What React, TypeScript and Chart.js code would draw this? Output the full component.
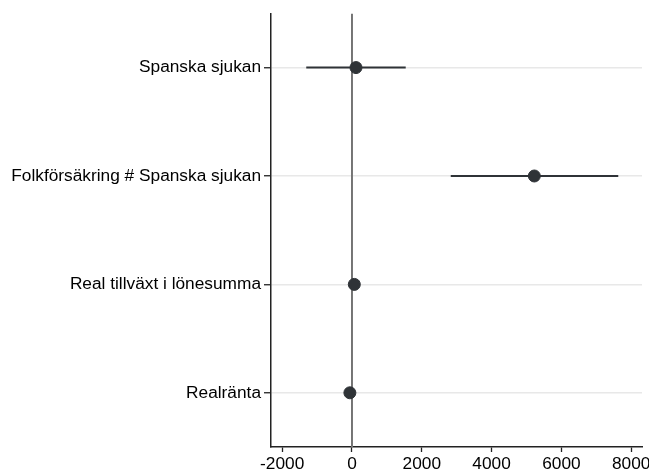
import React, { useEffect, useRef } from "react";
import { Chart, registerables } from "chart.js";

Chart.register(...registerables);

const categories = [
  "Spanska sjukan",
  "Folkförsäkring # Spanska sjukan",
  "Real tillväxt i lönesumma",
  "Realränta",
];
const estimates = [115, 5225, 67, -60];
const lowerCI = [-1310, 2830, -20, -140];
const upperCI = [1540, 7630, 150, 20];
const xTicks = [-2000, 0, 2000, 4000, 6000, 8000];
const xMin = -2320;
const xMax = 8310;

const DARK = "#2f3337";
const FONT = "'Liberation Sans', Arial, sans-serif";

export default function App() {
  const ref = useRef<HTMLCanvasElement>(null);

  useEffect(() => {
    if (!ref.current) return;
    const ciSets = categories.map((_, i) => ({
      type: "line" as const,
      data: [
        { x: lowerCI[i], y: i + 1 },
        { x: upperCI[i], y: i + 1 },
      ],
      borderColor: DARK,
      borderWidth: 2,
      pointRadius: 0,
      showLine: true,
      order: 1,
    }));
    const chart = new Chart(ref.current, {
      type: "scatter",
      data: {
        datasets: [
          {
            type: "scatter",
            data: estimates.map((e, i) => ({ x: e, y: i + 1 })),
            backgroundColor: DARK,
            borderColor: DARK,
            pointRadius: 6,
            order: 0,
          },
          ...ciSets,
          {
            type: "line",
            data: [
              { x: 0, y: 0.5 },
              { x: 0, y: 4.5 },
            ],
            borderColor: "#747474",
            borderWidth: 2,
            pointRadius: 0,
            showLine: true,
            order: 2,
          },
        ] as any,
      },
      options: {
        animation: false,
        responsive: true,
        maintainAspectRatio: false,
        layout: { padding: { top: 13, right: 7, left: 0, bottom: 0 } },
        plugins: { legend: { display: false }, tooltip: { enabled: false } },
        scales: {
          x: {
            type: "linear",
            min: xMin,
            max: xMax,
            afterBuildTicks: (s: any) => {
              s.ticks = xTicks.map((v) => ({ value: v }));
            },
            afterFit: (s: any) => {
              s.height = 24;
              s.paddingRight = 0;
              s.paddingLeft = 0;
            },
            grid: {
              drawOnChartArea: false,
              tickColor: "#222",
              tickLength: 5,
              tickWidth: 1.3,
            },
            border: { color: "#222", width: 1.5 },
            ticks: {
              color: "#000",
              padding: 2,
              maxRotation: 0,
              font: { family: FONT, size: 17.3 },
              callback: (v: any) => String(v),
            },
          },
          y: {
            type: "linear",
            min: 0.5,
            max: 4.5,
            reverse: true,
            afterBuildTicks: (s: any) => {
              s.ticks = categories.map((_, i) => ({ value: i + 1 }));
            },
            afterFit: (s: any) => {
              s.width = 271;
            },
            grid: {
              color: "#e8e8e8",
              lineWidth: 1.5,
              tickColor: "#222",
              tickLength: 7,
              tickWidth: 1.3,
            },
            border: { color: "#222", width: 1.5 },
            ticks: {
              color: "#000",
              padding: 3,
              font: { family: FONT, size: 17.3 },
              callback: (v: any) => categories[Math.round(v) - 1] ?? "",
            },
          },
        },
      },
    });
    return () => chart.destroy();
  }, []);

  return (
    <div
      style={{
        position: "fixed",
        left: 0,
        top: 0,
        width: 649,
        height: 471,
        background: "#fff",
      }}
    >
      <canvas ref={ref} />
    </div>
  );
}
